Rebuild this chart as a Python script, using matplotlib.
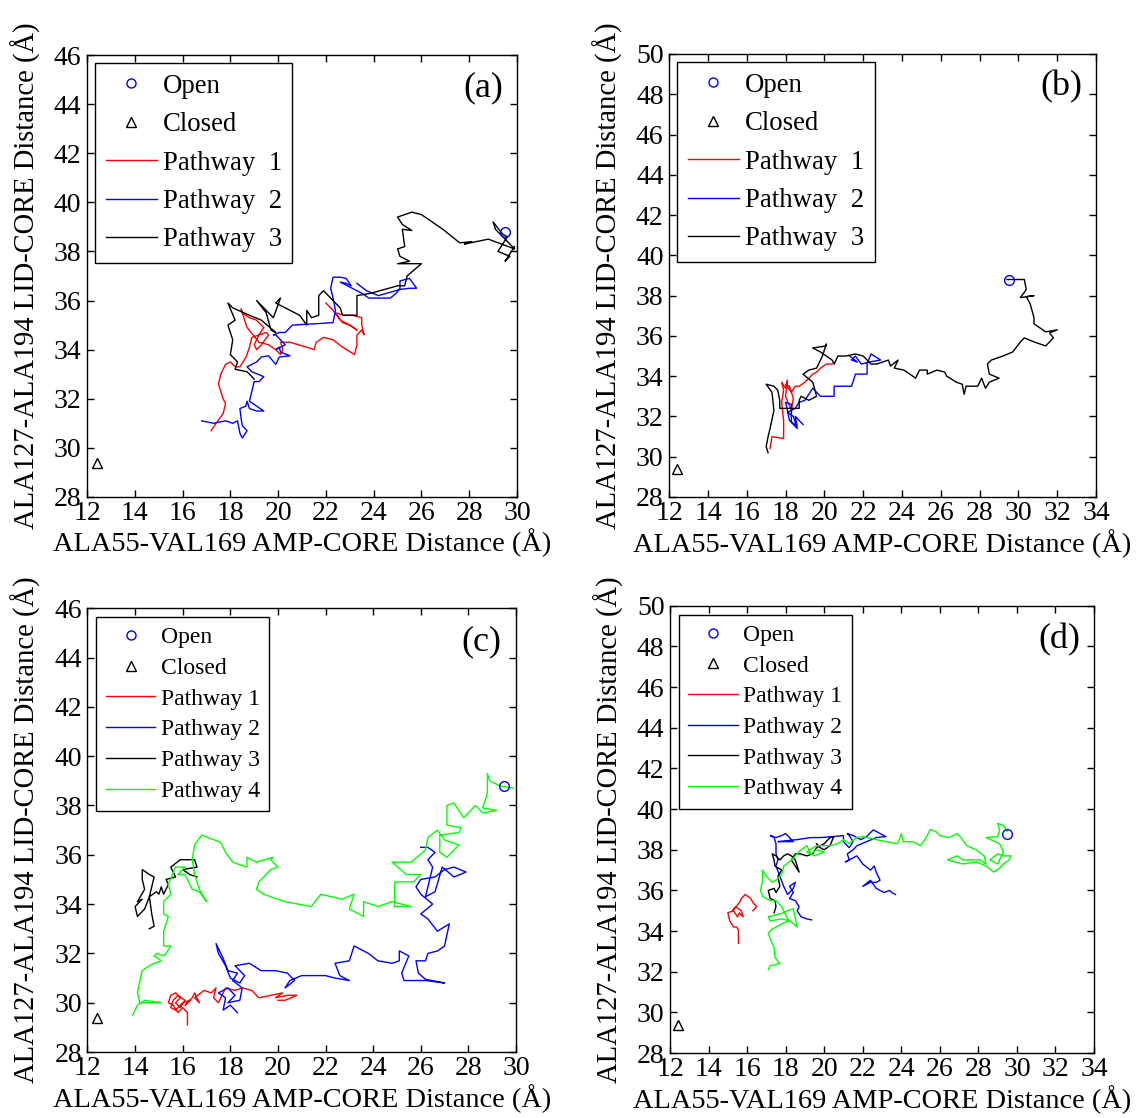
import numpy as np
import matplotlib
matplotlib.use("Agg")
import matplotlib.pyplot as plt
from matplotlib.lines import Line2D

plt.rcParams['font.family'] = ['Liberation Serif', 'DejaVu Serif']

# reference states
open_state = (29.5, 38.8)
closed_state = (12.4, 29.4)

# ---- panel (a) pathways ----
a_path1 = np.array([
    (17.2, 30.7), (17.4, 31.0), (17.7, 31.4), (17.8, 31.8), (17.7, 32.0), (17.5, 32.6), (17.6, 33.0),
    (17.8, 33.4), (18.0, 33.5), (18.2, 33.3), (18.4, 33.3), (18.66, 33.7), (18.8, 34.1), (18.9, 34.5),
    (19.2, 34.6), (19.5, 34.7), (19.6, 34.6), (19.3, 34.2), (19.1, 34.0), (19.0, 34.2), (19.2, 34.6),
    (19.4, 34.9), (19.1, 35.2), (18.8, 35.3), (18.5, 35.5), (18.45, 35.66), (18.6, 35.2), (18.7, 34.9),
    (19.2, 34.3), (19.6, 34.2), (19.9, 34.0), (20.1, 33.8), (20.2, 34.0), (20.1, 34.3), (20.5, 34.3),
    (21.2, 34.1), (21.5, 34.0), (21.6, 34.3), (21.9, 34.5), (22.3, 34.4), (22.7, 34.1), (23.2, 33.8),
    (23.3, 34.2), (23.3, 34.6), (23.5, 34.8), (23.6, 34.6), (23.5, 35.0), (23.5, 35.3), (23.1, 35.4),
    (22.8, 35.4), (22.4, 35.5), (22.7, 35.1), (23.0, 35.0), (23.3, 34.8), (23.0, 35.0), (22.6, 35.2),
    (22.3, 35.6), (22.0, 35.9)])
a_path2 = np.array([
    (16.8, 31.1), (17.3, 31.0), (17.8, 31.1), (18.1, 31.0), (18.3, 31.1), (18.4, 30.6), (18.5, 30.4),
    (18.7, 30.7), (18.5, 30.9), (18.45, 31.2), (18.4, 31.6), (18.65, 31.7), (18.7, 31.9), (18.8, 31.6),
    (19.1, 31.5), (19.4, 31.5), (19.1, 31.7), (18.8, 31.9), (18.9, 32.3), (19.0, 32.7), (19.2, 32.7),
    (19.4, 32.9), (19.15, 33.0), (18.9, 33.1), (18.7, 33.3), (19.1, 33.5), (19.3, 33.7), (19.6, 33.75),
    (19.9, 33.4), (20.05, 33.7), (20.5, 33.75), (20.1, 33.9), (20.05, 34.1), (19.9, 34.0), (20.3, 34.2),
    (20.1, 34.4), (19.9, 34.6), (19.8, 34.6), (20.05, 34.7), (20.3, 34.7), (20.6, 35.0), (21.5, 35.05),
    (22.3, 35.1), (22.4, 35.6), (22.3, 36.1), (22.2, 36.5), (22.3, 36.95), (22.6, 36.95), (22.85, 36.9),
    (23.06, 36.6), (22.85, 36.7), (22.6, 36.75), (23.1, 36.5), (23.5, 36.3), (23.8, 36.1), (24.25, 36.1),
    (24.7, 36.1), (24.95, 36.3), (25.1, 36.5), (25.1, 36.8), (25.5, 36.9), (25.8, 36.5), (25.5, 36.5),
    (25.1, 36.45), (24.2, 36.2), (23.7, 36.4), (23.3, 36.7)])
a_path3 = np.array([
    (29.9, 38.2), (29.5, 37.6), (29.7, 37.8), (29.2, 38.0), (29.6, 38.6), (29.4, 38.7), (29.0, 39.2),
    (29.1, 38.9), (29.9, 38.1), (28.8, 38.5), (27.8, 38.3), (28.1, 38.4), (27.6, 38.35), (26.9, 38.9),
    (26.0, 39.5), (25.6, 39.6), (25.0, 39.4), (25.2, 39.1), (25.6, 38.85), (25.2, 38.9), (25.3, 38.2),
    (25.0, 38.1), (25.1, 37.8), (25.5, 37.6), (25.0, 37.5), (26.0, 37.5), (25.4, 37.0), (25.3, 36.6),
    (25.0, 36.6), (23.9, 36.3), (23.3, 36.2), (23.3, 35.4), (22.7, 35.4), (22.6, 35.7), (22.1, 36.2),
    (21.9, 36.4), (21.7, 36.2), (21.7, 35.4), (21.4, 35.3), (21.2, 35.6), (21.2, 35.0), (20.9, 35.4),
    (20.3, 35.7), (19.9, 35.9), (20.1, 36.1), (19.8, 35.3), (19.6, 35.5), (19.1, 36.0), (19.5, 35.5),
    (19.7, 34.8), (19.9, 34.7), (19.3, 35.2), (18.8, 35.4), (18.1, 35.7), (17.9, 35.9), (18.2, 35.2),
    (17.9, 35.0), (18.1, 34.4), (18.0, 33.8), (18.3, 33.5), (18.2, 33.2), (18.7, 33.1), (19.0, 32.8)])

# ---- panel (b) pathways ----
b_path1 = np.array([
    (17.2, 30.4), (17.3, 31.0), (17.9, 30.9), (17.9, 31.8), (17.8, 32.7), (17.9, 33.3), (17.8, 33.7),
    (18.0, 33.4), (18.1, 33.8), (18.0, 33.0), (18.3, 32.3), (18.4, 32.9), (18.2, 33.5), (18.0, 33.6),
    (18.3, 33.2), (18.5, 33.5), (18.7, 33.5), (19.0, 33.7), (19.4, 34.1), (19.6, 34.2), (19.8, 34.4),
    (20.1, 34.6), (20.4, 34.6)])
b_path2 = np.array([
    (18.9, 31.6), (18.5, 32.0), (18.6, 31.5), (18.2, 31.8), (18.1, 32.3), (18.0, 32.7), (18.3, 32.6),
    (18.3, 31.7), (18.6, 31.4), (18.4, 32.0), (18.1, 32.2), (18.5, 32.4), (18.7, 32.7), (19.0, 32.8),
    (19.4, 33.4), (19.6, 33.2), (19.8, 33.0), (20.5, 33.0), (20.5, 33.5), (21.4, 33.5), (21.6, 34.1),
    (22.2, 34.1), (22.2, 34.6), (22.4, 35.1), (22.9, 34.8), (22.3, 34.7), (21.9, 34.6), (21.6, 35.0),
    (21.4, 34.8), (21.7, 34.7), (21.3, 35.0)])
b_path3 = np.array([
    (29.4, 38.8), (30.3, 38.8), (30.4, 38.3), (30.1, 37.9), (30.8, 38.0), (30.4, 37.95), (30.6, 37.6),
    (30.8, 36.9), (30.8, 36.6), (31.4, 36.2), (32.0, 36.3), (31.6, 36.15), (31.8, 35.9), (31.4, 35.5),
    (30.8, 35.7), (30.3, 35.9), (30.1, 35.7), (29.7, 35.2), (29.2, 35.0), (28.6, 34.8), (28.4, 34.6),
    (28.5, 34.1), (29.0, 33.9), (28.5, 33.7), (28.3, 33.4), (28.1, 33.9), (27.9, 33.5), (27.3, 33.5),
    (27.2, 33.1), (27.1, 33.6), (26.8, 33.7), (26.3, 34.0), (26.2, 34.2), (25.8, 34.3), (25.3, 34.1),
    (25.3, 34.3), (24.9, 34.3), (24.7, 33.9), (24.4, 34.1), (24.1, 34.3), (23.6, 34.4), (23.8, 34.8),
    (23.4, 34.5), (23.3, 34.8), (22.7, 34.6), (22.4, 34.6), (22.0, 35.0), (21.6, 35.1), (21.1, 35.0),
    (20.7, 35.0), (20.5, 34.6), (20.4, 34.8), (20.1, 35.0), (19.8, 35.2), (19.4, 35.4), (20.1, 35.5),
    (20.1, 35.6), (19.9, 35.0), (19.6, 34.4), (19.2, 34.3), (18.9, 34.1), (19.4, 33.7), (19.6, 33.0),
    (19.2, 32.8), (18.8, 33.0), (18.7, 32.8), (18.7, 32.4), (17.7, 32.4), (17.7, 32.8), (17.6, 33.3),
    (17.4, 33.5), (17.0, 33.6), (17.3, 33.2), (17.4, 32.3), (17.2, 31.4), (17.1, 31.0), (17.0, 30.5),
    (17.1, 30.2)])

# ---- panel (c) pathways ----
c_path1 = np.array([
    (16.2, 29.1), (16.2, 29.6), (16.0, 29.8), (15.8, 29.6), (15.6, 29.9), (15.4, 30.0), (15.5, 30.3),
    (15.7, 30.4), (15.9, 30.2), (15.7, 30.0), (15.9, 29.8), (16.1, 30.1), (15.8, 30.3), (15.6, 30.1),
    (15.5, 29.8), (15.7, 29.7), (16.0, 30.0), (16.3, 30.1), (16.1, 29.9), (16.4, 30.2), (16.5, 30.4),
    (16.7, 30.0), (16.5, 30.2), (16.9, 30.5), (17.2, 30.4), (17.4, 30.6), (17.3, 30.2), (17.5, 30.0),
    (17.8, 30.6), (18.2, 30.5), (18.5, 30.6), (18.9, 30.5), (19.2, 30.2), (19.7, 30.3), (20.2, 30.4),
    (19.9, 30.2), (20.4, 30.3), (20.8, 30.3), (20.3, 30.1), (20.0, 30.1)])
c_path2 = np.array([
    (18.3, 29.6), (18.0, 29.9), (17.7, 29.7), (17.8, 30.2), (17.5, 30.4), (17.9, 30.6), (18.2, 30.3),
    (17.9, 30.0), (18.4, 30.1), (18.5, 30.6), (18.1, 30.9), (18.3, 31.2), (17.9, 31.3), (17.7, 31.8),
    (17.6, 32.0), (17.4, 32.4), (17.5, 32.0), (17.8, 31.5), (18.0, 31.0), (18.4, 30.8), (18.6, 31.1),
    (18.2, 31.5), (18.8, 31.6), (19.3, 31.3), (19.9, 31.3), (20.4, 31.2), (20.7, 30.9), (20.3, 30.6),
    (20.5, 30.9), (21.0, 31.1), (21.6, 31.1), (22.0, 31.1), (22.4, 31.0), (23.0, 30.9), (22.6, 31.1),
    (22.4, 31.6), (23.0, 31.7), (23.2, 32.3), (23.8, 32.0), (24.2, 31.7), (24.8, 31.6), (25.1, 31.7),
    (25.1, 32.1), (25.5, 31.9), (25.2, 31.2), (25.3, 30.9), (26.2, 30.9), (27.0, 30.8), (26.2, 30.95),
    (25.9, 31.2), (25.8, 31.7), (26.2, 31.7), (26.3, 32.0), (26.7, 32.1), (27.0, 32.3), (27.2, 33.2),
    (26.7, 32.9), (26.3, 33.4), (26.0, 33.6), (26.5, 34.0), (26.0, 34.4), (25.8, 34.7), (26.0, 35.0),
    (26.6, 35.1), (27.0, 35.4), (27.4, 35.5), (27.9, 35.3), (27.4, 35.1), (26.9, 35.5), (26.6, 34.5),
    (26.2, 34.3), (26.5, 35.5), (26.3, 35.8), (26.6, 36.1), (26.3, 36.3), (26.0, 36.3)])
c_path3 = np.array([
    (14.6, 33.0), (14.8, 33.1), (14.7, 33.6), (14.6, 34.3), (14.4, 33.8), (14.1, 33.5), (14.0, 33.9),
    (14.3, 34.2), (14.1, 34.1), (14.4, 34.6), (14.3, 35.0), (14.3, 35.4), (14.6, 35.2), (14.8, 35.1),
    (14.7, 34.7), (14.6, 34.3), (14.9, 34.5), (15.0, 34.4), (15.1, 34.7), (15.2, 34.4), (15.4, 34.8),
    (15.3, 35.0), (15.7, 35.1), (15.5, 35.5), (15.9, 35.8), (16.5, 35.8), (16.6, 35.5), (16.0, 35.4),
    (16.3, 35.2), (16.6, 35.1)])
c_path4 = np.array([
    (29.9, 38.7), (29.3, 38.8), (28.9, 39.0), (28.8, 39.3), (28.8, 38.5), (28.6, 37.9), (29.2, 37.8),
    (28.6, 37.7), (28.3, 38.0), (27.8, 37.5), (27.4, 38.1), (27.1, 38.0), (27.1, 37.2), (27.7, 37.1),
    (27.6, 36.9), (26.8, 36.8), (26.8, 36.1), (27.1, 35.9), (27.6, 36.4), (27.0, 36.6), (26.7, 37.0),
    (26.3, 36.7), (26.2, 36.2), (25.6, 35.7), (24.8, 35.7), (25.4, 35.2), (26.0, 35.2), (25.7, 34.9),
    (24.9, 34.9), (24.9, 33.9), (25.6, 33.9), (24.8, 34.1), (24.2, 33.9), (23.6, 34.1), (23.6, 33.5),
    (23.0, 33.8), (23.2, 34.4), (22.7, 34.2), (21.8, 34.4), (21.4, 33.9), (20.3, 34.1), (19.4, 34.4),
    (19.1, 34.6), (19.2, 34.9), (19.7, 35.4), (20.0, 35.5), (19.7, 35.8), (19.8, 35.9), (19.1, 35.7),
    (18.7, 35.9), (18.7, 35.5), (18.1, 35.7), (17.8, 36.1), (17.6, 36.5), (16.8, 36.8), (16.5, 36.4),
    (16.4, 35.8), (16.5, 35.2), (16.7, 34.6), (17.0, 34.1), (16.7, 34.5), (16.4, 34.6), (16.1, 35.2),
    (15.8, 35.2), (16.1, 35.5), (15.7, 35.5), (15.4, 34.8), (15.5, 34.4), (15.2, 34.1), (15.2, 33.6),
    (15.4, 33.5), (15.2, 32.9), (15.2, 32.3), (15.5, 32.3), (15.3, 32.0), (15.2, 31.9), (14.9, 32.0),
    (14.8, 31.9), (15.1, 31.7), (14.8, 31.6), (14.6, 31.5), (14.3, 31.3), (14.2, 30.9), (14.1, 30.4),
    (14.2, 30.0), (14.6, 30.0), (15.1, 30.0), (14.4, 30.1), (14.1, 29.9), (13.9, 29.5)])

# ---- panel (d) pathways ----
d_path1 = np.array([
    (15.55, 33.4), (15.55, 34.06), (15.45, 34.2), (15.3, 34.2), (15.1, 34.5), (15.0, 34.9), (15.3, 35.0),
    (15.5, 34.7), (15.6, 34.9), (15.8, 34.7), (15.7, 35.0), (15.4, 35.2), (15.25, 35.0), (15.6, 35.4),
    (15.7, 35.6), (15.9, 35.8), (16.2, 35.6), (16.3, 35.4), (16.5, 35.2), (16.3, 35.0)])
d_path2 = np.array([
    (19.35, 34.55), (19.1, 34.6), (18.8, 34.7), (18.6, 35.0), (18.7, 35.2), (18.5, 35.5), (18.2, 35.6),
    (18.4, 35.9), (18.2, 36.2), (18.5, 36.4), (18.4, 36.1), (18.1, 35.8), (17.9, 36.2), (17.7, 36.7),
    (17.5, 37.2), (17.6, 37.5), (17.5, 37.8), (17.5, 38.3), (17.4, 38.6), (17.2, 38.7), (17.5, 38.6),
    (17.8, 38.7), (18.0, 38.8), (18.2, 38.6), (18.4, 38.4), (17.9, 38.4), (17.6, 38.4), (18.6, 38.5),
    (19.3, 38.6), (19.8, 38.6), (20.5, 38.65), (21.0, 38.7), (21.0, 38.4), (21.2, 38.2), (21.3, 38.1),
    (21.5, 38.4), (21.3, 38.7), (21.2, 38.8), (21.5, 38.7), (21.9, 38.5), (22.2, 38.65), (22.55, 38.98),
    (22.9, 38.8), (23.2, 38.65), (22.7, 38.6), (22.2, 38.4), (21.7, 38.2), (21.5, 38.0), (21.2, 37.8),
    (21.3, 37.5), (21.1, 37.4), (21.7, 37.7), (22.0, 37.3), (22.4, 37.0), (22.6, 37.2), (22.7, 36.9),
    (22.9, 36.5), (22.7, 36.4), (22.4, 36.4), (22.0, 36.2), (22.4, 36.5), (22.7, 36.1), (23.1, 35.9),
    (23.4, 36.0), (23.5, 35.9), (23.7, 35.8)])
d_path3 = np.array([
    (17.4, 34.9), (17.5, 35.2), (17.45, 35.5), (17.2, 35.6), (17.1, 36.0), (17.4, 36.1), (17.5, 35.9),
    (17.7, 36.2), (17.6, 36.7), (17.8, 37.0), (17.45, 37.2), (17.4, 37.5), (17.3, 37.8), (17.5, 37.7),
    (17.7, 37.5), (17.9, 37.7), (18.1, 37.8), (18.3, 37.7), (18.5, 37.5), (18.6, 37.2), (18.7, 36.9),
    (18.5, 37.2), (18.3, 37.5), (18.5, 37.8), (18.75, 37.8), (19.1, 37.7), (19.4, 37.8), (19.6, 38.1),
    (20.0, 38.3), (20.1, 38.4), (20.3, 38.6), (20.5, 38.65), (20.3, 38.2), (20.0, 38.0), (19.8, 38.1),
    (19.6, 38.3)])
d_path4 = np.array([
    (17.1, 32.1), (17.2, 32.3), (17.7, 32.4), (17.45, 32.7), (17.4, 33.2), (17.2, 33.6), (17.1, 33.9),
    (17.3, 34.1), (17.5, 34.2), (17.9, 34.4), (18.2, 34.5), (17.8, 34.6), (17.2, 34.5), (17.1, 34.7),
    (17.5, 34.8), (17.9, 34.9), (18.1, 35.0), (18.4, 35.1), (18.6, 34.2), (18.1, 34.6), (17.8, 35.2),
    (17.5, 35.5), (17.2, 35.5), (16.8, 35.7), (16.7, 36.0), (16.8, 36.5), (16.8, 37.0), (17.0, 36.7),
    (17.3, 36.4), (17.5, 36.5), (17.8, 36.8), (17.9, 37.2), (18.05, 37.3), (18.3, 37.5), (18.6, 37.8),
    (18.8, 38.0), (19.1, 38.2), (19.3, 37.8), (19.6, 38.0), (20.0, 37.9), (19.5, 37.7), (19.1, 37.9),
    (19.6, 38.2), (20.3, 38.2), (20.7, 38.3), (21.0, 38.5), (21.3, 38.3), (21.7, 38.6), (22.0, 38.65),
    (22.7, 38.5), (23.2, 38.4), (23.8, 38.3), (23.9, 38.5), (24.0, 38.8), (24.1, 38.4), (24.6, 38.4),
    (25.0, 38.2), (25.3, 38.6), (25.5, 39.0), (25.8, 38.9), (26.0, 38.7), (26.5, 38.6), (26.9, 38.8),
    (27.1, 38.6), (27.4, 38.2), (27.9, 38.0), (28.3, 37.7), (28.4, 37.3), (28.1, 37.5), (27.2, 37.5),
    (26.9, 37.7), (26.4, 37.5), (27.2, 37.3), (27.9, 37.4), (28.4, 37.2), (28.8, 36.9), (29.1, 37.1),
    (29.3, 37.3), (29.6, 37.5), (29.7, 37.7), (29.3, 37.7), (29.0, 37.8), (28.6, 37.5), (29.0, 37.3),
    (29.3, 37.9), (29.1, 38.3), (28.4, 38.6), (29.0, 38.65), (29.1, 38.97), (29.0, 39.3), (29.3, 39.2),
    (29.5, 38.9)])

path_colors = ['#ff0000', '#0000ff', '#000000', '#00ff00']

panels = [
    dict(tag='(a)', rect=[0.0766, 0.5555, 0.3785, 0.3953], xlim=(12, 30), ylim=(28, 46),
         paths=[a_path1, a_path2, a_path3], names=['Pathway  1', 'Pathway  2', 'Pathway  3'],
         legsize=19.3, legspace=0.5, handlelen=1.9, legpad=0.3),
    dict(tag='(b)', rect=[0.589, 0.5555, 0.3759, 0.3962], xlim=(12, 34), ylim=(28, 50),
         paths=[b_path1, b_path2, b_path3], names=['Pathway  1', 'Pathway  2', 'Pathway  3'],
         legsize=19.3, legspace=0.5, handlelen=1.9, legpad=0.3),
    dict(tag='(c)', rect=[0.077, 0.059, 0.3772, 0.397], xlim=(12, 30), ylim=(28, 46),
         paths=[c_path1, c_path2, c_path3, c_path4],
         names=['Pathway 1', 'Pathway 2', 'Pathway 3', 'Pathway 4'],
         legsize=17, legspace=0.39, handlelen=2.1, legpad=0.38),
    dict(tag='(d)', rect=[0.5898, 0.0581, 0.3732, 0.400], xlim=(12, 34), ylim=(28, 50),
         paths=[d_path1, d_path2, d_path3, d_path4],
         names=['Pathway 1', 'Pathway 2', 'Pathway 3', 'Pathway 4'],
         legsize=17, legspace=0.39, handlelen=2.1, legpad=0.38),
]

fig = plt.figure(figsize=(11.36, 11.18), dpi=100)

for p in panels:
    ax = fig.add_axes(p['rect'])
    handles = [
        Line2D([], [], ls='none', marker='o', ms=6.5, mfc='none', mec='#0000ff', mew=1.0, label='Open'),
        Line2D([], [], ls='none', marker='^', ms=7, mfc='none', mec='k', mew=1.0, label='Closed'),
    ]
    for i, path in enumerate(p['paths']):
        ln, = ax.plot(path[:, 0], path[:, 1], color=path_colors[i], lw=1.0, label=p['names'][i])
        handles.append(ln)
    ax.plot(*open_state, ls='none', marker='o', ms=7, mfc='none', mec='#0000ff', mew=1.0)
    ax.plot(*closed_state, ls='none', marker='^', ms=7.5, mfc='none', mec='k', mew=1.0)

    ax.set_xlim(*p['xlim'])
    ax.set_ylim(*p['ylim'])
    ax.set_xticks(np.arange(p['xlim'][0], p['xlim'][1] + 1, 2))
    ax.set_yticks(np.arange(p['ylim'][0], p['ylim'][1] + 1, 2))
    ax.tick_params(direction='in', top=True, right=True, length=5, width=1, labelsize=20)
    ax.tick_params(axis='x', pad=3)
    ax.tick_params(axis='y', pad=4)
    for s in ax.spines.values():
        s.set_linewidth(1.0)

    ax.set_xlabel('ALA55-VAL169 AMP-CORE Distance (Å)', fontsize=20.4)
    ax.set_ylabel('ALA127-ALA194 LID-CORE Distance (Å)', fontsize=20.6)
    ax.xaxis.set_label_coords(0.5, -0.072)
    ax.yaxis.set_label_coords(-0.108, 0.5)

    leg = ax.legend(handles=handles, loc='upper left', fontsize=p['legsize'],
                    frameon=True, fancybox=False, edgecolor='k', framealpha=1,
                    handlelength=p['handlelen'], handletextpad=0.22,
                    labelspacing=p['legspace'], borderpad=0.4, borderaxespad=p['legpad'])
    leg.get_frame().set_linewidth(1.0)

    ax.text(0.967, 0.925, p['tag'], transform=ax.transAxes, ha='right', va='center',
            fontsize=26)

fig.savefig('out.png', dpi=100)
